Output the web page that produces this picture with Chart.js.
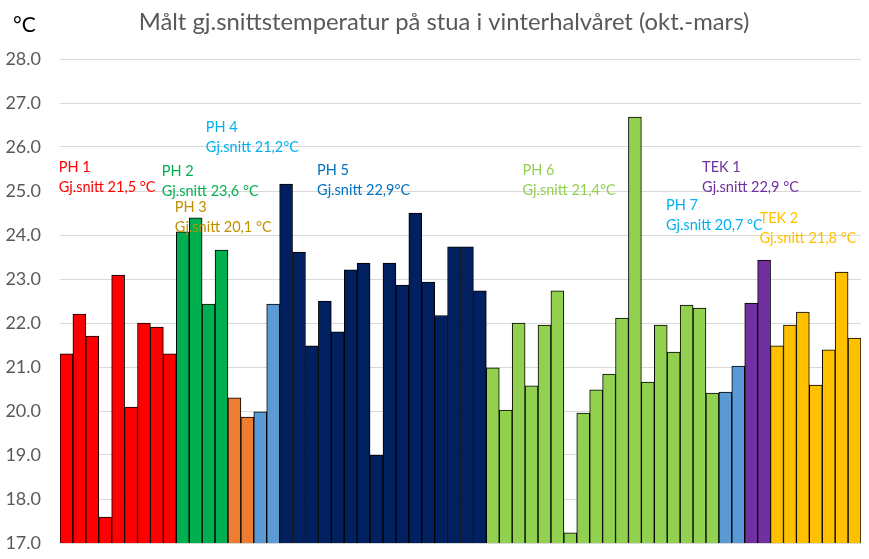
<!DOCTYPE html>
<html>
<head>
<meta charset="utf-8">
<title>Målt gj.snittstemperatur</title>
<script src="https://cdn.jsdelivr.net/npm/chart.js@4.4.1/dist/chart.umd.min.js"></script>
<style>
  html, body { margin: 0; padding: 0; background: #fff; }
  #wrap { width: 869px; height: 559px; position: relative; }
</style>
</head>
<body>
<div id="wrap"><canvas id="tempChart"></canvas></div>
<script>
// DATA - one array per measuring group (°C)
const ph1 = [21.30, 22.20, 21.70, 17.59, 23.09, 20.09, 22.00, 21.91, 21.30];
const ph2 = [24.07, 24.39, 22.43, 23.66];
const ph3 = [20.30, 19.86];
const ph4 = [19.98, 22.43];
const ph5 = [25.16, 23.61, 21.48, 22.50, 21.80, 23.21, 23.36, 19.00,
             23.36, 22.86, 24.50, 22.93, 22.17, 23.73, 23.73, 22.73];
const ph6 = [20.98, 20.02, 22.00, 20.57, 21.95, 22.73, 17.23, 19.95, 20.48,
             20.84, 22.11, 26.68, 20.66, 21.95, 21.34, 22.41, 22.34, 20.41];
const ph7 = [20.43, 21.02];
const tek1 = [22.45, 23.43];
const tek2 = [21.48, 21.95, 22.25, 20.59, 21.39, 23.16, 21.66];

const groupNames = ['PH 1', 'PH 2', 'PH 3', 'PH 4', 'PH 5', 'PH 6', 'PH 7', 'TEK 1', 'TEK 2'];
const groupAvgText = ['Gj.snitt 21,5 °C', 'Gj.snitt 23,6 °C', 'Gj.snitt 20,1 °C', 'Gj.snitt 21,2°C',
                      'Gj.snitt 22,9°C', 'Gj.snitt 21,4°C', 'Gj.snitt 20,7 °C', 'Gj.snitt 22,9 °C', 'Gj.snitt 21,8 °C'];
const yTicks = [17, 18, 19, 20, 21, 22, 23, 24, 25, 26, 27, 28];

const groups = [ph1, ph2, ph3, ph4, ph5, ph6, ph7, tek1, tek2];

// styles
const barColors = ['#FF0000', '#00B050', '#ED7D31', '#5B9BD5', '#002060', '#92D050', '#5B9BD5', '#7030A0', '#FFC000'];
const textColors = ['#FF0000', '#00B050', '#BF9000', '#00B0F0', '#0070C0', '#92D050', '#00B0F0', '#7030A0', '#FFC000'];
// where each group note sits: [category index, temperature]
const notePos = [[-0.6, 25.53], [7.38, 25.44], [8.39, 24.62], [10.79, 26.44], [19.4, 25.48],
                 [35.3, 25.46], [46.4, 24.67], [49.2, 25.53], [53.65, 24.39]];

const FONT = 'Lato, "Open Sans", sans-serif';

const values = groups.flat();
const labels = values.map((_, i) => String(i + 1));
const colors = [];
groups.forEach((g, gi) => g.forEach(() => colors.push(barColors[gi])));

// title, unit and group notes
const notesPlugin = {
  id: 'notes',
  afterDatasetsDraw(chart) {
    const { ctx, scales: { x, y } } = chart;
    ctx.save();
    ctx.textBaseline = 'middle';
    ctx.textAlign = 'left';
    ctx.font = '14.5px ' + FONT;
    notePos.forEach((p, i) => {
      const px = x.getPixelForValue(p[0]);
      const py = y.getPixelForValue(p[1]);
      ctx.fillStyle = textColors[i];
      ctx.fillText(groupNames[i], px, py);
      ctx.fillText(groupAvgText[i], px, py + 20);
    });

    ctx.fillStyle = '#595959';
    ctx.font = '23.8px ' + FONT;
    ctx.textAlign = 'center';
    ctx.fillText('Målt gj.snittstemperatur på stua i vinterhalvåret (okt.-mars)', 444, 22);

    ctx.fillStyle = '#000';
    ctx.font = '21px ' + FONT;
    ctx.textAlign = 'left';
    ctx.fillText('°C', 13, 25);
    ctx.restore();
  }
};

new Chart(document.getElementById('tempChart'), {
  type: 'bar',
  data: {
    labels,
    datasets: [{
      data: values,
      backgroundColor: colors,
      borderColor: '#000000',
      borderWidth: 1,
      borderSkipped: false,
      categoryPercentage: 1.0,
      barPercentage: 1.0
    }]
  },
  options: {
    responsive: true,
    maintainAspectRatio: false,
    animation: false,
    layout: { padding: { top: 59, right: 8, bottom: 16, left: 0 } },
    plugins: {
      legend: { display: false },
      title: { display: false },
      tooltip: { enabled: false }
    },
    scales: {
      x: { display: false },
      y: {
        min: yTicks[0],
        max: yTicks[yTicks.length - 1],
        afterBuildTicks: (axis) => { axis.ticks = yTicks.map(v => ({ value: v })); },
        afterFit: (axis) => { axis.width = 60; },
        border: { display: false },
        // invisible tick marks keep the labels away from the plot
        grid: { color: '#D9D9D9', lineWidth: 1, drawTicks: true, tickLength: 19, tickColor: 'rgba(0,0,0,0)' },
        ticks: {
          padding: 0,
          color: '#595959',
          font: { family: FONT, size: 18 },
          callback: (v) => Number(v).toFixed(1)
        }
      }
    }
  },
  plugins: [notesPlugin]
});
</script>
</body>
</html>
